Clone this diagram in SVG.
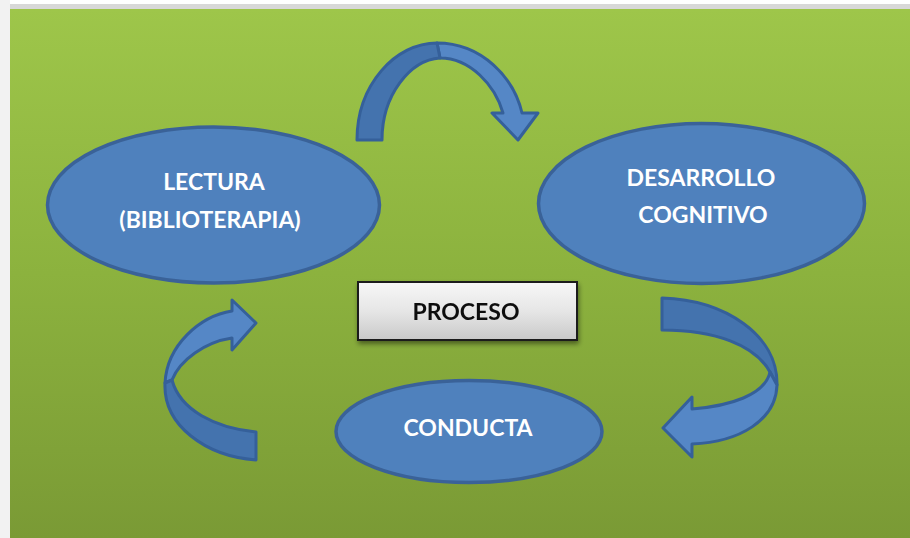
<svg xmlns="http://www.w3.org/2000/svg" width="910" height="538" viewBox="0 0 910 538">
<defs>
<linearGradient id="bg" x1="0" y1="0" x2="0" y2="1">
<stop offset="0" stop-color="#9ec64a"/>
<stop offset="0.5" stop-color="#8cb23e"/>
<stop offset="1" stop-color="#7a9a35"/>
</linearGradient>
<linearGradient id="btn" x1="0" y1="0" x2="0" y2="1">
<stop offset="0" stop-color="#f7f7f7"/>
<stop offset="0.5" stop-color="#e6e6e6"/>
<stop offset="1" stop-color="#c9c9c9"/>
</linearGradient>
<filter id="sh" x="-20%" y="-20%" width="140%" height="160%">
<feGaussianBlur in="SourceAlpha" stdDeviation="2.5"/>
<feOffset dx="1" dy="3" result="b"/>
<feComponentTransfer><feFuncA type="linear" slope="0.45"/></feComponentTransfer>
<feMerge><feMergeNode/><feMergeNode in="SourceGraphic"/></feMerge>
</filter>
</defs>
<style>
.node{fill:#4f81bd;stroke:#3a6298;stroke-width:3.5}
.lbl{font-family:Lato,"Liberation Sans",Arial,sans-serif;font-weight:bold;font-size:23px;fill:#ffffff;text-anchor:middle}
.dark{fill:#4473ae;stroke:#35609a;stroke-width:3;stroke-linejoin:round}
.light{fill:#5587c6;stroke:#35609a;stroke-width:3;stroke-linejoin:round}
</style>
<rect x="0" y="0" width="910" height="538" fill="#ffffff"/>
<rect x="0" y="4" width="910" height="5" fill="#d8d8d8"/>
<rect x="0" y="0" width="10" height="538" fill="#f2f2f2"/>
<rect x="10" y="9" width="900" height="529" fill="url(#bg)"/>

<g id="connectors">
<g id="arrow-top">
<path class="light" d="M437,43 C482,43 514,78 522,113 L538,113 L518,140 L492,113 L503,113 C495,85 470,58 440,58 Z"/>
<path class="dark" d="M357,140 C357,85 395,43 437,43 L440,58 C410,60 382,95 382,140 Z"/>
</g>
<g id="arrow-right">
<path class="dark" d="M662,298 C725,300 778,335 777,385 L770,372 C755,345 715,330 662,330 Z"/>
<path class="light" d="M777,385 C776,420 740,442 692,444 L692,457 L663,428 L692,397 L692,409 C730,406 765,395 770,372 Z"/>
</g>
<g id="arrow-left">
<path class="light" d="M232,311 L232,300 L256,323 L232,350 L232,338 C205,342 180,360 172,380 L165,383 C167,345 200,316 232,311 Z"/>
<path class="dark" d="M165,383 C163,425 205,456 256,460 L256,432 C215,428 180,410 172,380 Z"/>
</g>
</g>

<g id="node-lectura">
<ellipse class="node" cx="213.5" cy="205" rx="166" ry="78"/>
<text class="lbl" x="214" y="190">LECTURA</text>
<text class="lbl" x="210" y="228">(BIBLIOTERAPIA)</text>
</g>
<g id="node-desarrollo">
<ellipse class="node" cx="701.5" cy="203.5" rx="163" ry="80"/>
<text class="lbl" x="701" y="186">DESARROLLO</text>
<text class="lbl" x="703" y="223">COGNITIVO</text>
</g>
<g id="node-conducta">
<ellipse class="node" cx="469" cy="431.5" rx="133" ry="51"/>
<text class="lbl" x="468" y="436">CONDUCTA</text>
</g>
<g id="node-proceso" filter="url(#sh)">
<rect x="358" y="282" width="219" height="58" fill="url(#btn)" stroke="#1a1a1a" stroke-width="2"/>
<text x="466" y="320" font-family="Lato,'Liberation Sans',Arial,sans-serif" font-weight="bold" font-size="23" fill="#111111" text-anchor="middle">PROCESO</text>
</g>
</svg>
